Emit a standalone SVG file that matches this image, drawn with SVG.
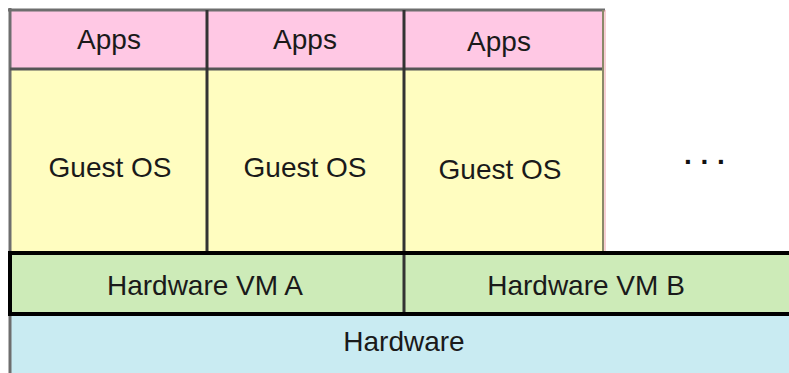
<svg xmlns="http://www.w3.org/2000/svg" width="789" height="373" viewBox="0 0 789 373">
<style>
.t{font-family:"Liberation Sans",Arial,sans-serif;font-size:28px;fill:#1a1a1a;text-anchor:middle}
.apps{fill:#ffc8e4}
.os{fill:#fffdc0}
.vm{fill:#cdebb8}
.hw{fill:#c9ebf2}
.div{stroke:#333;stroke-width:3}
.edge{stroke:#6e6e6e;stroke-width:3}
.blk{stroke:#000;stroke-width:4}
</style>
<rect width="789" height="373" fill="#fff"/>
<g id="hardware">
<rect class="hw" x="10" y="315" width="779" height="58"/>
<text class="t" x="404" y="351">Hardware</text>
</g>
<g id="vm-a">
<rect class="vm" x="10" y="253" width="394" height="61"/>
<text class="t" x="205" y="295">Hardware VM A</text>
</g>
<g id="vm-b">
<rect class="vm" x="404" y="253" width="385" height="61"/>
<text class="t" x="586" y="295">Hardware VM B</text>
</g>
<g id="col1">
<rect class="apps" x="10" y="10" width="197" height="59"/>
<rect class="os" x="10" y="69" width="197" height="184"/>
<text class="t" x="109" y="49">Apps</text>
<text class="t" x="110" y="177">Guest OS</text>
</g>
<g id="col2">
<rect class="apps" x="207" y="10" width="197" height="59"/>
<rect class="os" x="207" y="69" width="197" height="184"/>
<text class="t" x="305" y="49">Apps</text>
<text class="t" x="305" y="177">Guest OS</text>
</g>
<g id="col3">
<rect class="apps" x="404" y="10" width="200" height="59"/>
<rect class="os" x="404" y="69" width="200" height="184"/>
<text class="t" x="499" y="51">Apps</text>
<text class="t" x="500" y="179">Guest OS</text>
</g>
<g id="more">
<text class="t" x="684" y="164" style="text-anchor:start;letter-spacing:8.7px;font-weight:bold;fill:#111">...</text>
</g>
<g id="lines" fill="none">
<line class="edge" x1="8" y1="10" x2="605" y2="10"/>
<line class="edge" x1="10" y1="8" x2="10" y2="373"/>
<line x1="10" y1="69" x2="604" y2="69" stroke="#555" stroke-width="3"/>
<line class="div" x1="207" y1="10" x2="207" y2="253"/>
<line class="div" x1="404" y1="10" x2="404" y2="253"/>
<line x1="603" y1="10" x2="603" y2="253" stroke="#8a8a6a" stroke-width="2"/>
<line x1="605" y1="10" x2="605" y2="253" stroke="#f0a0a8" stroke-width="1"/>
<line class="div" x1="404" y1="253" x2="404" y2="314"/>
<line class="blk" x1="8" y1="253" x2="789" y2="253"/>
<line class="blk" x1="8" y1="314" x2="789" y2="314"/>
<line class="blk" x1="10" y1="251" x2="10" y2="316"/>
</g>
</svg>
